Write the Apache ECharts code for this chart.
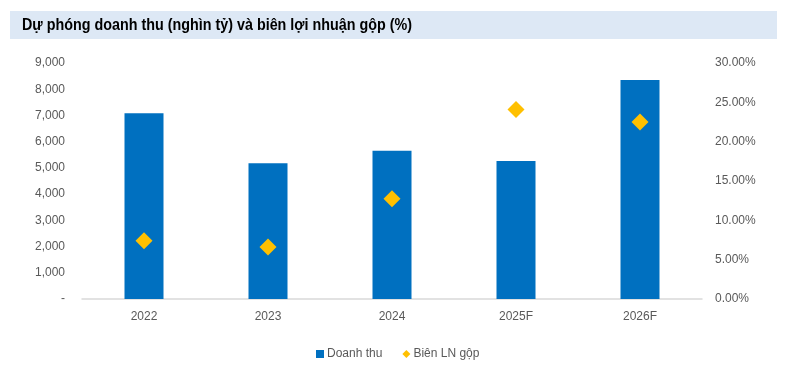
<!DOCTYPE html>
<html><head><meta charset="utf-8">
<script src="https://cdn.jsdelivr.net/npm/echarts@6/dist/echarts.min.js"></script>
<style>html,body{margin:0;padding:0;background:#fff}#c{width:785px;height:378px}</style>
</head><body><div id="c"></div>
<script>
const categories = ['2022', '2023', '2024', '2025F', '2026F'];
const revenue = [7080, 5180, 5650, 5260, 8350];
const grossMargin = [0.074, 0.066, 0.1275, 0.241, 0.225];
const titleText = 'Dự phóng doanh thu (nghìn tỷ) và biên lợi nhuận gộp (%)';
const seriesNames = ['Doanh thu', 'Biên LN gộp'];

const titleFont = 'bold 17px "Liberation Sans", Arial, sans-serif';
const ctx = document.createElement('canvas').getContext('2d');
ctx.font = titleFont;
const titleScale = 390 / ctx.measureText(titleText).width;

const chart = echarts.init(document.getElementById('c'));
const lblFont = {color: '#595959', fontSize: 12, fontFamily: 'Liberation Sans, Arial, sans-serif'};
chart.setOption({
  animation: false,
  graphic: [
    {type: 'rect', shape: {x: 10, y: 11, width: 767, height: 28}, style: {fill: '#dde8f5'}, z: 0},
    {type: 'text', x: 22, y: 25, scaleX: titleScale, style: {text: titleText, fill: '#000', font: titleFont, textVerticalAlign: 'middle'}, z: 1}
  ],
  legend: {
    left: 311, top: 343, itemWidth: 8, itemHeight: 8, itemGap: 20,
    textStyle: Object.assign({}, lblFont, {padding: [0, 0, 0, -2]}),
    data: [{name: seriesNames[0], icon: 'rect'}, {name: seriesNames[1], icon: 'diamond'}]
  },
  grid: {left: 82, right: 83, top: 63, bottom: 79},
  xAxis: {
    type: 'category', data: categories,
    axisLine: {lineStyle: {color: '#d9d9d9', width: 1.5}},
    axisTick: {show: false},
    axisLabel: Object.assign({margin: 12}, lblFont)
  },
  yAxis: [
    {type: 'value', min: 0, max: 9000, interval: 1000, splitLine: {show: false},
     axisLine: {show: false}, axisTick: {show: false},
     axisLabel: Object.assign({margin: 17, formatter: v => v === 0 ? '-' : v.toLocaleString('en-US')}, lblFont)},
    {type: 'value', min: 0, max: 0.3, interval: 0.05, splitLine: {show: false},
     axisLine: {show: false}, axisTick: {show: false},
     axisLabel: Object.assign({margin: 13, formatter: v => (v * 100).toFixed(2) + '%'}, lblFont)}
  ],
  series: [
    {name: seriesNames[0], type: 'bar', data: revenue, barWidth: 39, itemStyle: {color: '#0070C0'}},
    {name: seriesNames[1], type: 'scatter', yAxisIndex: 1, data: grossMargin, symbol: 'diamond', symbolSize: 17, itemStyle: {color: '#FFC000', opacity: 1}, z: 3}
  ]
});
</script></body></html>
